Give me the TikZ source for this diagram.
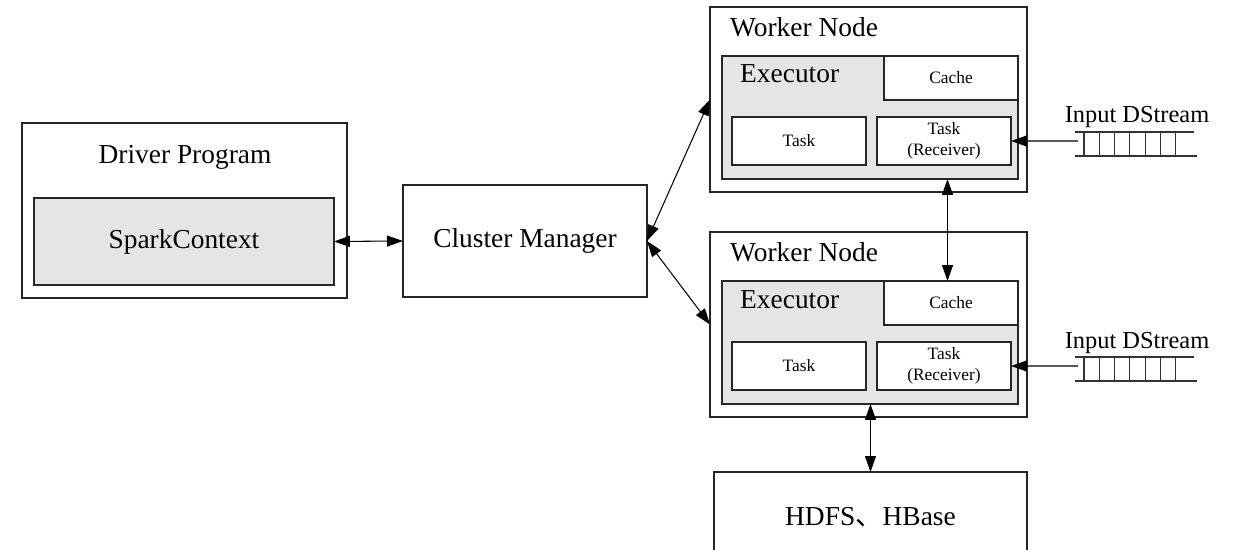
\documentclass[tikz,border=0pt]{standalone}
\usepackage{fontspec}
\setmainfont{Liberation Serif}
\newfontfamily\cjk{Noto Sans CJK SC}
\usepackage{tikz}
\usetikzlibrary{
    positioning,
    arrows.meta
}
\tikzset{
    box/.style={
        rectangle, draw=black!85, line width=0.7pt,
        inner sep=0pt, outer sep=0pt, anchor=north west
    },
    shaded/.style={
        fill=black!10
    },
    bigtext/.style={
        font=\fontsize{15.6}{18}\selectfont
    },
    smalltext/.style={
        font=\fontsize{9.9}{12.3}\selectfont, align=center
    },
    link/.style={
        {Triangle[length=0.32cm, width=0.22cm]}-{Triangle[length=0.32cm, width=0.22cm]},
        line width=0.6pt, draw=black
    },
    inlink/.style={
        -{Triangle[length=0.32cm, width=0.22cm]},
        line width=0.6pt, draw=black
    }
}

\begin{document}
\begin{tikzpicture}[
    x=0.02cm, y=-0.02cm,
    streamline/.style={draw=black!80, line width=0.6pt}
  ]
    \useasboundingbox (0,0) rectangle (1236,550);

    % driver side
    \node[box, minimum width=6.5cm, minimum height=3.5cm] (driver) at (22,123) {};
    \node[bigtext, anchor=base] (drivertitle) at (185,164) {Driver Program};
    \node[box, shaded, bigtext, minimum width=6.0cm, minimum height=1.74cm] (sc) at (34,198) {SparkContext};

    \node[box, bigtext, minimum width=4.88cm, minimum height=2.24cm] (cm) at (403,185) {Cluster Manager};

    % the two workers, same layout shifted down
    \foreach \i/\dy in {1/0, 2/225} {
      \begin{scope}[shift={(0,\dy)}]
        \node[box, minimum width=6.34cm, minimum height=3.7cm] (worker\i) at (710,7) {};
        \node[bigtext, anchor=base west] (wtitle\i) at (724,37) {Worker Node};
        \node[box, shaded, minimum width=5.92cm, minimum height=2.46cm] (exec\i) at (722,56) {};
        \node[bigtext, anchor=base west] (etitle\i) at (734,83) {Executor};
        \node[box, fill=white, smalltext, minimum width=2.68cm, minimum height=0.88cm] (cache\i) at (884,56) {Cache};
        \node[box, fill=white, smalltext, minimum width=2.68cm, minimum height=0.96cm] (task\i) at (732,117) {Task};
        \node[box, fill=white, smalltext, minimum width=2.68cm, minimum height=0.96cm] (recv\i) at (877,117) {Task\\(Receiver)};

        % input stream
        \node[font=\fontsize{13.9}{16}\selectfont, anchor=base] (inlabel\i) at (1137,123) {Input DStream};
        \draw[streamline] (1075,132) -- (1194,132);
        \draw[streamline] (1075,156) -- (1197,156);
        \foreach \k in {0,...,6}
          \draw[streamline] (1084+15.3*\k,132) -- (1084+15.3*\k,156);
        \coordinate (in\i) at (1078,141);
        \draw[inlink] (in\i) -- (recv\i.east);
      \end{scope}
    }

    \node[box, bigtext, minimum width=6.26cm, minimum height=1.8cm] (hdfs) at (714,472) {HDFS{\cjk 、}HBase};

    % connections
    \draw[link] (sc.east) -- (cm.west);
    \draw[link] (cm.east) -- (worker1.west);
    \draw[link] (cm.east) -- (worker2.west);
    \draw[link] ([xshift=0.07cm]recv1.center |- exec1.south) -- ([xshift=0.07cm]recv1.center |- exec2.north);
    \draw[link] (hdfs.north |- exec2.south) -- (hdfs.north);

\end{tikzpicture}
\end{document}
